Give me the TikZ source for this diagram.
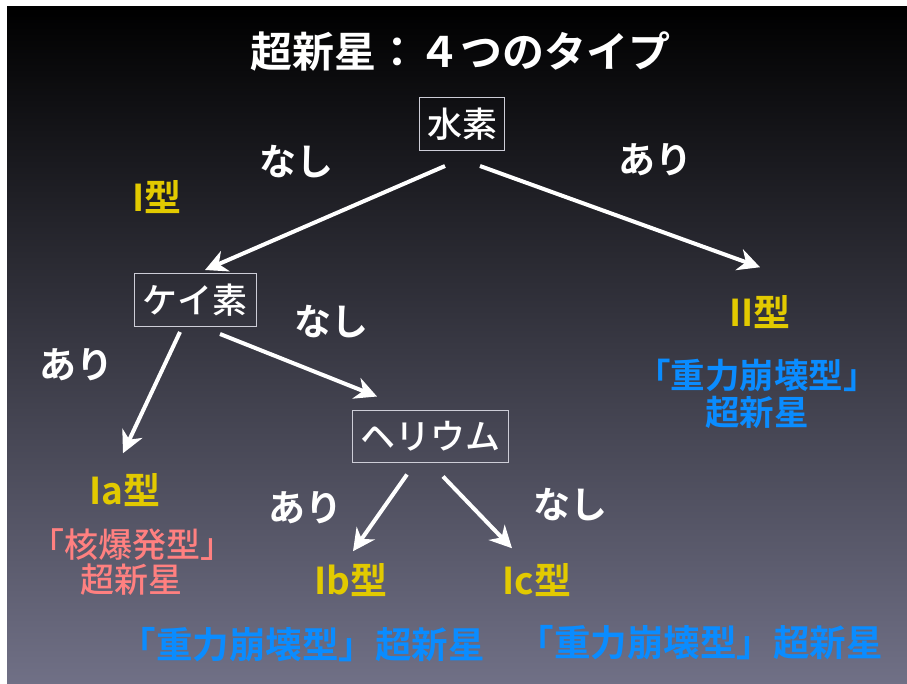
\documentclass[tikz,border=0pt]{standalone}
\usepackage{fontspec}
\setmainfont{Noto Sans CJK JP}[BoldFont={Noto Sans CJK JP Bold}]
\newfontfamily\jpmed{Noto Sans CJK JP Medium}
\usetikzlibrary{arrows.meta,calc}
\definecolor{ylw}{RGB}{226,202,0}
\definecolor{blu}{RGB}{10,140,255}
\definecolor{pnk}{RGB}{255,128,128}
\definecolor{bgmid}{RGB}{30,30,60}
\definecolor{bgbot}{RGB}{112,112,134}
\definecolor{boxline}{RGB}{205,205,215}
\begin{document}
\begin{tikzpicture}[x=1pt,y=-1pt,
 box/.style={draw=boxline, line width=1pt, text=white, font=\jpmed\fontsize{35}{40}\selectfont, minimum height=53pt, inner sep=0pt},
 lab/.style={text=white, font=\bfseries\fontsize{37}{40}\selectfont, inner sep=0pt},
 typ/.style={text=ylw, font=\bfseries\fontsize{37}{40}\selectfont, inner sep=0pt},
 grav/.style={text=blu, font=\bfseries\fontsize{34.5}{37}\selectfont, inner sep=0pt, align=center},
 nucl/.style={text=pnk, font=\jpmed\fontsize{34}{35}\selectfont, inner sep=0pt, align=center},
 arr/.style={draw=white, line width=4pt, -{Stealth[length=22pt,width=22pt,inset=7pt]}}]
\useasboundingbox (0,0) rectangle (907,684);
\fill[white] (0,0) rectangle (907,684);
\shade[top color=black, middle color=bgmid, bottom color=bgbot] (7,7) rectangle (907,684);

\node[text=white, font=\bfseries\fontsize{42}{50}\selectfont, inner sep=0pt] (title) at (460,52) {超新星：４つのタイプ};

\node[box, minimum width=85pt] (suiso) at (462,124) {水素};
\node[box, minimum width=122pt] (keiso) at (195,300) {ケイ素};
\node[box, minimum width=156pt, minimum height=52pt] (helium) at (430,436) {ヘリウム};

\node[lab] (n1) at (296,162) {なし};
\node[lab] (a1) at (655,160) {あり};
\node[lab] (n2) at (331,322) {なし};
\node[lab] (a2) at (76,365) {あり};
\node[lab] (a3) at (305,508) {あり};
\node[lab] (n3) at (570,505) {なし};

\node[typ] (t1) at (157,197) {I型};
\node[typ] (t2) at (760,312) {II型};
\node[typ] (tia) at (125,490) {Ia型};
\node[typ] (tib) at (351,580) {Ib型};
\node[typ] (tic) at (537,580) {Ic型};

\node[grav] (g2) at (757,394) {「重力崩壊型」\\超新星};
\node[nucl] (pa) at (132,562) {「核爆発型」\\超新星};
\node[grav, font=\bfseries\fontsize{36.5}{40}\selectfont] (gb) at (302,645) {「重力崩壊型」超新星};
\node[grav, font=\bfseries\fontsize{36.5}{40}\selectfont] (gc) at (700,643) {「重力崩壊型」超新星};

\draw[arr] ($(suiso.south)+(-17,15)$) -- ($(keiso.north)+(10,-3)$);
\draw[arr] ($(suiso.south)+(18,15)$) -- ($(t2.north)+(0,-28)$);
\draw[arr] ($(keiso.south)+(-15,5)$) -- ($(tia.north)+(-2,-20)$);
\draw[arr] ($(keiso.south)+(25,7)$) -- ($(helium.north)+(-53,-13)$);
\draw[arr] ($(helium.south)+(-23,12)$) -- ($(tib.north)+(2,-12)$);
\draw[arr] ($(helium.south)+(13,14)$) -- ($(tic.north)+(-25,-15)$);
\end{tikzpicture}
\end{document}
